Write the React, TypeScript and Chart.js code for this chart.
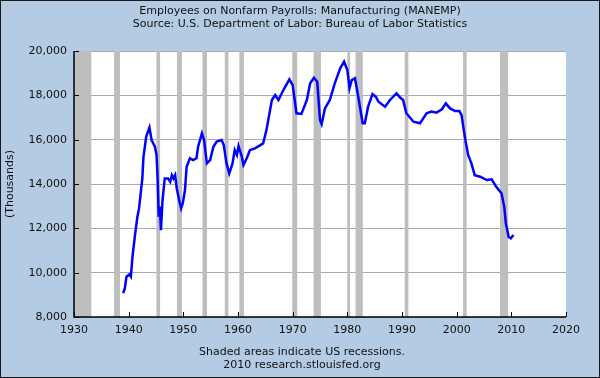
import React, { useEffect, useRef } from "react";
import { Chart, registerables } from "chart.js";

Chart.register(...registerables);

const titleLines = [
  "Employees on Nonfarm Payrolls: Manufacturing (MANEMP)",
  "Source: U.S. Department of Labor: Bureau of Labor Statistics",
];
const footerLines = ["Shaded areas indicate US recessions.", "2010 research.stlouisfed.org"];
const yAxisTitle = "(Thousands)";

const years = [
  1939.0, 1939.3, 1939.6, 1940.1, 1940.4, 1940.7, 1941.2, 1941.6, 1941.9, 1942.3,
  1942.5, 1942.7, 1943.2, 1943.8, 1944.2, 1944.8, 1945.1, 1945.3, 1945.5, 1945.7,
  1945.9, 1946.2, 1946.6, 1947.2, 1947.6, 1947.9, 1948.2, 1948.5, 1948.8, 1949.3,
  1949.6, 1949.9, 1950.3, 1950.6, 1951.2, 1951.8, 1952.4, 1952.7, 1953.4, 1953.8,
  1954.3, 1954.9, 1955.5, 1956.1, 1957.0, 1957.4, 1957.9, 1958.4, 1959.0, 1959.4,
  1959.8, 1960.1, 1960.7, 1961.0, 1961.6, 1962.2, 1963.1, 1963.8, 1964.6, 1965.2,
  1966.2, 1966.8, 1967.4, 1968.3, 1969.4, 1970.0, 1970.7, 1971.6, 1972.6, 1973.2,
  1973.9, 1974.5, 1975.0, 1975.3, 1975.9, 1976.8, 1977.7, 1978.7, 1979.4, 1980.0,
  1980.4, 1980.8, 1981.4, 1982.0, 1982.8, 1983.2, 1983.8, 1984.6, 1985.2, 1985.7,
  1986.9, 1987.8, 1989.0, 1989.6, 1990.2, 1990.8, 1992.1, 1993.3, 1994.5, 1995.4,
  1996.3, 1997.3, 1998.0, 1998.8, 1999.7, 2000.5, 2000.9, 2001.3, 2001.6, 2002.1,
  2002.7, 2003.3, 2004.3, 2005.5, 2006.4, 2007.3, 2008.2, 2008.7, 2009.0, 2009.5,
  2009.9, 2010.4,
];
const values = [
  9080, 9300, 9820, 9920, 9820, 10720, 11780, 12520, 12900, 13800,
  14250, 15200, 16130, 16550, 15980, 15680, 15310, 14200, 12520, 12980,
  11920, 13280, 14250, 14250, 14100, 14400, 14250, 14400, 13800, 13200,
  12900, 13130, 13730, 14780, 15160, 15080, 15160, 15680, 16290, 15980,
  14930, 15080, 15680, 15910, 15980, 15760, 14930, 14480, 14930, 15530,
  15310, 15710, 15230, 14860, 15160, 15530, 15610, 15710, 15830, 16430,
  17790, 18010, 17790, 18240, 18720, 18460, 17190, 17160, 17790, 18540,
  18790, 18610, 16890, 16700, 17410, 17790, 18540, 19220, 19520, 19140,
  18320, 18690, 18770, 17940, 16740, 16740, 17490, 18060, 17940, 17710,
  17490, 17790, 18090, 17910, 17790, 17190, 16810, 16740, 17190, 17270,
  17220, 17370, 17640, 17410, 17290, 17290, 17110, 16430, 15980, 15310,
  14930, 14400, 14330, 14180, 14210, 13850, 13580, 12980, 12230, 11620,
  11550, 11700,
];

const recessionStarts = [
  1929.58, 1937.33, 1945.08, 1948.83, 1953.5, 1957.58, 1960.25, 1969.92, 1973.83,
  1980.0, 1981.5, 1990.5, 2001.17, 2007.92,
];
const recessionEnds = [
  1933.17, 1938.42, 1945.75, 1949.75, 1954.33, 1958.25, 1961.08, 1970.83, 1975.17,
  1980.5, 1982.83, 1991.17, 2001.83, 2009.42,
];

const xMin = 1930;
const xMax = 2020;
const xStep = 10;
const yMin = 8000;
const yMax = 20000;
const yStep = 2000;

const FONT = "DejaVu Sans";
const BG = "#B3CCE3";

const decorPlugin = {
  id: "decor",
  beforeDraw(chart: any) {
    const ctx = chart.ctx;
    ctx.save();
    ctx.fillStyle = BG;
    ctx.fillRect(0, 0, chart.width, chart.height);
    const a = chart.chartArea;
    ctx.fillStyle = "#FFFFFF";
    ctx.fillRect(a.left, a.top, a.right - a.left, a.bottom - a.top);
    ctx.restore();
  },
  beforeDatasetsDraw(chart: any) {
    const ctx = chart.ctx;
    const a = chart.chartArea;
    const xs = chart.scales.x;
    ctx.save();
    ctx.beginPath();
    ctx.rect(a.left, a.top, a.right - a.left, a.bottom - a.top);
    ctx.clip();
    ctx.fillStyle = "#BEBEBE";
    for (let i = 0; i < recessionStarts.length; i++) {
      const x0 = xs.getPixelForValue(recessionStarts[i]);
      const x1 = xs.getPixelForValue(recessionEnds[i]);
      ctx.fillRect(x0, a.top, x1 - x0, a.bottom - a.top);
    }
    ctx.restore();
  },
  afterDatasetsDraw(chart: any) {
    const ctx = chart.ctx;
    const a = chart.chartArea;
    const xs = chart.scales.x;
    const ys = chart.scales.y;
    ctx.save();
    ctx.strokeStyle = "#000000";
    ctx.lineWidth = 1;
    ctx.beginPath();
    for (let v = yMin; v <= yMax; v += yStep) {
      const y = Math.round(ys.getPixelForValue(v)) + 0.5;
      ctx.moveTo(a.left, y);
      ctx.lineTo(a.left + 5, y);
    }
    for (let v = xMin; v <= xMax; v += xStep) {
      const x = Math.round(xs.getPixelForValue(v)) + 0.5;
      ctx.moveTo(x, a.bottom);
      ctx.lineTo(x, a.bottom - 5);
    }
    ctx.stroke();
    ctx.lineWidth = 1.5;
    ctx.beginPath();
    ctx.moveTo(a.left, a.top);
    ctx.lineTo(a.left, a.bottom);
    ctx.lineTo(a.right, a.bottom);
    ctx.stroke();
    ctx.restore();
  },
  afterDraw(chart: any) {
    const ctx = chart.ctx;
    ctx.save();
    ctx.fillStyle = "#111111";
    ctx.font = `11px "${FONT}"`;
    ctx.textAlign = "center";
    ctx.textBaseline = "middle";
    ctx.fillText(titleLines[0], 300, 11);
    ctx.fillText(titleLines[1], 300, 24);
    ctx.fillText(footerLines[0], 302, 352);
    ctx.fillText(footerLines[1], 302, 365);
    ctx.strokeStyle = "#1a1a1a";
    ctx.lineWidth = 1;
    ctx.strokeRect(0.5, 0.5, chart.width - 1, chart.height - 1);
    ctx.restore();
  },
};

export default function App() {
  const ref = useRef<HTMLCanvasElement | null>(null);

  useEffect(() => {
    document.body.style.margin = "0";
    const canvas = ref.current;
    if (!canvas) return;
    const data = years.map((x, i) => ({ x, y: values[i] }));
    const chart = new Chart(canvas, {
      type: "line",
      data: {
        datasets: [
          {
            data,
            borderColor: "#0000FF",
            borderWidth: 2.5,
            pointRadius: 0,
            tension: 0,
            fill: false,
          },
        ],
      },
      options: {
        animation: false,
        responsive: false,
        devicePixelRatio: 1,
        font: { family: FONT, size: 11 },
        layout: { padding: { top: 51, right: 34, bottom: 31, left: 0 } },
        plugins: {
          legend: { display: false },
          title: { display: false },
          tooltip: { enabled: false },
        },
        scales: {
          x: {
            type: "linear",
            min: xMin,
            max: xMax,
            afterFit: (s: any) => {
              s.height = 30;
            },
            grid: { display: false, drawTicks: false },
            border: { display: false },
            ticks: {
              stepSize: xStep,
              padding: 7,
              color: "#111111",
              font: { family: FONT, size: 11 },
              callback: (v: any) => String(v),
              maxRotation: 0,
            },
          },
          y: {
            min: yMin,
            max: yMax,
            afterFit: (s: any) => {
              s.width = 74;
            },
            grid: { color: "#AAAAAA", lineWidth: 1, drawTicks: false },
            border: { display: false },
            title: {
              display: true,
              text: yAxisTitle,
              color: "#111111",
              font: { family: FONT, size: 11 },
              padding: { top: 4, bottom: 0 },
            },
            ticks: {
              stepSize: yStep,
              padding: 7,
              color: "#111111",
              font: { family: FONT, size: 11 },
              callback: (v: any) => Number(v).toLocaleString("en-US"),
            },
          },
        },
      },
      plugins: [decorPlugin],
    });
    return () => chart.destroy();
  }, []);

  return <canvas ref={ref} width={600} height={378} style={{ display: "block", width: 600, height: 378 }} />;
}
